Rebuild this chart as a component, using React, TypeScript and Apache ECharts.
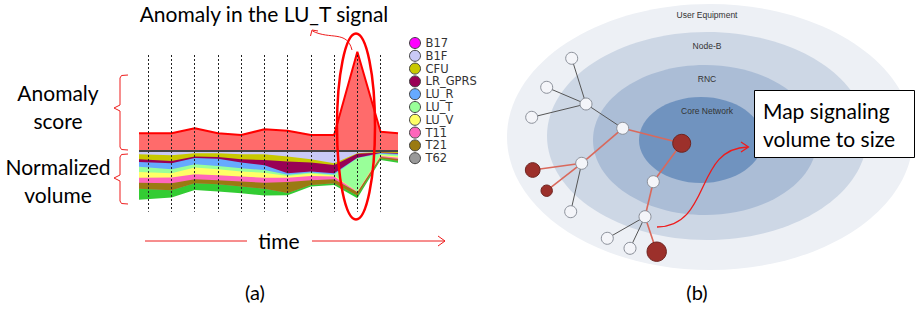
import React, { useEffect, useRef } from "react";
import * as echarts from "echarts";

// ---------- panel (a) data ----------
const timeIdx = [-0.4, 1, 2, 3, 4, 5, 6, 7, 8, 9, 10, 10.75];
const gridTimes = [0, 1, 2, 3, 4, 5, 6, 7, 8, 9, 10];
const anomalyScore = [17.7, 17.7, 22.7, 17.7, 16, 21.7, 20.3, 16, 16, 99.3, 19.3, 17.7];

const volumeNames = ["B17", "B1F", "CFU", "LR_GPRS", "LU_R", "LU_T", "LU_V", "T11", "T21", "T62", "Other"];
const volumeColors = ["#ff00ff", "#c9c9f6", "#c8c800", "#990055", "#66aaff", "#99ff99", "#ffff66", "#ff66bb", "#9a7a12", "#999999", "#33cc33"];
const volB17 = [0, 0, 0, 0, 0, 0, 0, 0, 0, 0, 0, 0];
const volB1F = [3.3, 4.3, 2.3, 2.3, 3.3, 3.3, 5.5, 8.3, 12.3, 2.3, 0.7, 1];
const volCFU = [5, 5.7, 3.3, 3.7, 5, 5.7, 5, 3.3, 1.7, 0.5, 0.7, 1];
const volLRGPRS = [2.7, 2.3, 1.3, 1.7, 3.3, 5.3, 11.7, 9, 8.3, 4, 0.7, 0.7];
const volLUR = [4.7, 6, 6.3, 7.3, 5.7, 4.7, 1.5, 1, 1.1, 0.3, 0.7, 1];
const volLUT = [5.3, 4, 3.3, 3.3, 3.3, 2.7, 1.3, 1, 1.1, 33.3, 1.3, 1.7];
const volLUV = [5.7, 4.3, 6.7, 6, 5, 5, 1.7, 2.3, 1.1, 0.3, 1, 1.3];
const volT11 = [5, 5.7, 5, 5, 5, 5, 4.3, 4.3, 2.7, 0.5, 1, 1.3];
const volT21 = [6, 7, 4, 4, 5, 6, 11, 4.7, 4, 3.3, 1.3, 1.7];
const volT62 = [0, 0, 0, 0, 0, 0, 0, 0, 0, 0, 0, 0];
const volOther = [11, 7.3, 6.7, 7.3, 6.7, 6.7, 2.3, 1.7, 1.7, 2.7, 1.7, 2];
const volumes = [volB17, volB1F, volCFU, volLRGPRS, volLUR, volLUT, volLUV, volT11, volT21, volT62, volOther];
const legendNames = ["B17", "B1F", "CFU", "LR_GPRS", "LU_R", "LU_T", "LU_V", "T11", "T21", "T62"];

// ---------- panel (b) data ----------
const nodeX = [571.7, 546.7, 586, 531.7, 622.7, 681.7, 581.7, 532.7, 546.7, 653.3, 570.7, 645, 607.3, 630, 656.7];
const nodeY = [58.3, 87.3, 104, 117.3, 128.3, 143.3, 163.3, 170, 190.7, 181.7, 211.7, 216.7, 238.3, 248.3, 251.7];
const nodeSize = [12, 12, 12, 12, 12, 18, 12, 14.7, 11.4, 12, 12, 12, 12, 12, 19.4];
const nodeHot = [0, 0, 0, 0, 0, 1, 0, 1, 1, 0, 0, 0, 0, 0, 1];
const linkSource = [0, 1, 3, 2, 6, 11, 11, 4, 4, 6, 6, 5, 9, 11];
const linkTarget = [2, 2, 2, 4, 10, 12, 13, 5, 6, 7, 8, 9, 11, 14];
const linkHot = [0, 0, 0, 0, 0, 0, 0, 1, 1, 1, 1, 1, 1, 1];
const layerNames = ["User Equipment", "Node-B", "RNC", "Core Network"];

const FONT = "Lato, 'Open Sans', sans-serif";

export default function App() {
  const ref = useRef<HTMLDivElement>(null);
  useEffect(() => {
    if (!ref.current) return;
    const chart = echarts.init(ref.current, undefined, { renderer: "svg" });

    // cumulative depth of each band below the baseline
    const cumulative: number[][] = [];
    volumes.forEach((v, k) => {
      cumulative.push(v.map((d, i) => d + (k > 0 ? cumulative[k - 1][i] : 0)));
    });
    // draw the deepest band first, shallower bands on top (each filled to 0)
    const volumeSeries = volumeNames
      .map((name, k) => ({
        type: "line",
        name,
        xAxisIndex: 0,
        yAxisIndex: 0,
        showSymbol: false,
        symbol: "none",
        color: volumeColors[k],
        lineStyle: { width: 0, opacity: 0 },
        areaStyle: { color: volumeColors[k], opacity: 1 },
        data: timeIdx.map((t, i) => [t, -cumulative[k][i]]),
        z: 2,
      }))
      .reverse();

    const txt = (text: string, x: number, y: number, size: number, extra: any = {}) => ({
      type: "text",
      x,
      y,
      z: 100,
      style: {
        text,
        fill: extra.fill || "#000",
        fontSize: size,
        fontFamily: extra.fontFamily || FONT,
        align: extra.align || "center",
        textAlign: extra.align || "center",
        verticalAlign: "middle",
        textVerticalAlign: "middle",
      },
    });
    const red = "#ee1c1c";

    const ellCx = [710, 707, 705, 701];
    const ellCy = [137, 136, 140, 140];
    const ellRx = [203, 160, 112, 62];
    const ellRy = [133, 104, 75, 43];
    const ellFill = ["#edf0f5", "#cdd7e5", "#abbdd6", "#7093bf"];
    const layerLabelY = [15, 46, 79, 111];

    const option: any = {
      animation: false,
      grid: [
        { left: 139, top: 49, width: 259, height: 163 },
        { left: 500, top: 0, width: 415, height: 310 },
      ],
      xAxis: [
        { type: "value", min: -0.4, max: 10.75, show: false, gridIndex: 0 },
        { type: "value", min: 500, max: 915, show: false, gridIndex: 1 },
      ],
      yAxis: [
        { type: "value", min: -61, max: 102, show: false, gridIndex: 0 },
        { type: "value", min: 0, max: 310, inverse: true, show: false, gridIndex: 1 },
      ],
      legend: {
        data: legendNames,
        orient: "vertical",
        left: 409,
        top: 37,
        itemWidth: 11,
        itemHeight: 11,
        itemGap: 0.8,
        icon: "circle",
        selectedMode: false,
        padding: 0,
        itemStyle: { borderColor: "#444", borderWidth: 1 },
        textStyle: { fontSize: 11.5, fontFamily: "'DejaVu Sans', sans-serif", color: "#333" },
      },
      series: [
        {
          type: "line",
          name: "Anomaly score",
          xAxisIndex: 0,
          yAxisIndex: 0,
          showSymbol: false,
          symbol: "none",
          color: "#ff0000",
          lineStyle: { color: "#ff0000", width: 2 },
          areaStyle: { color: "#ff6b6b", opacity: 1 },
          data: timeIdx.map((t, i) => [t, anomalyScore[i]]),
          z: 3,
        },
        ...volumeSeries,
        {
          type: "line",
          name: "grid",
          xAxisIndex: 0,
          yAxisIndex: 0,
          data: [],
          z: 5,
          markLine: {
            silent: true,
            symbol: ["none", "none"],
            label: { show: false },
            animation: false,
            data: [
              ...gridTimes.map((t) => [
                { coord: [t, 96], lineStyle: { color: "#222", width: 1, type: [2, 2] } },
                { coord: [t, -60.7] },
              ]),
              { yAxis: 0, lineStyle: { color: "#444", width: 2, type: "solid" } },
            ],
          },
        },
        {
          type: "graph",
          coordinateSystem: "cartesian2d",
          xAxisIndex: 1,
          yAxisIndex: 1,
          z: 4,
          symbol: "circle",
          label: { show: false },
          data: nodeX.map((x, i) => ({
            name: "n" + i,
            value: [x, nodeY[i]],
            symbolSize: nodeSize[i],
            itemStyle: nodeHot[i]
              ? { color: "#9c302b", borderColor: "#6e2420", borderWidth: 1 }
              : { color: "#f4f5f9", borderColor: "#8a8f99", borderWidth: 1 },
          })),
          links: linkSource.map((s, i) => ({
            source: "n" + s,
            target: "n" + linkTarget[i],
            lineStyle: linkHot[i]
              ? { color: "#d9695c", width: 1.6, opacity: 1 }
              : { color: "#555", width: 1, opacity: 1 },
          })),
        },
      ],
      graphic: [
        ...ellCx.map((cx, i) => ({
          type: "ellipse",
          z: 0,
          shape: { cx, cy: ellCy[i], rx: ellRx[i], ry: ellRy[i] },
          style: { fill: ellFill[i] },
        })),
        ...layerNames.map((n, i) =>
          txt(n, 707, layerLabelY[i], 8.5, { fontFamily: "'Liberation Sans', Arial, sans-serif", fill: "#333" })
        ),
        {
          type: "rect",
          z: 100,
          shape: { x: 754.5, y: 90.5, width: 160, height: 67 },
          style: { fill: "#fff", stroke: "#000", lineWidth: 1 },
        },
        txt("Map signaling", 763, 110, 21, { align: "left" }),
        txt("volume to size", 763, 138, 21, { align: "left" }),
        {
          type: "bezierCurve",
          z: 100,
          shape: { x1: 657, y1: 227, cpx1: 712, cpy1: 226, cpx2: 694, cpy2: 148, x2: 748, y2: 147 },
          style: { stroke: red, fill: "none", lineWidth: 1.3 },
        },
        {
          type: "polyline",
          z: 100,
          shape: { points: [[741, 142], [748.5, 147], [741, 152]] },
          style: { stroke: red, fill: "none", lineWidth: 1.3 },
        },
        txt("Anomaly in the LU_T signal", 264, 13, 21),
        {
          type: "bezierCurve",
          z: 100,
          shape: { x1: 352, y1: 50, cpx1: 347, cpy1: 30, cpx2: 330, cpy2: 40, x2: 312.5, y2: 31 },
          style: { stroke: red, fill: "none", lineWidth: 1 },
        },
        {
          type: "polyline",
          z: 100,
          shape: { points: [[310.5, 36], [312, 30], [318, 31]] },
          style: { stroke: red, fill: "none", lineWidth: 1 },
        },
        {
          type: "ellipse",
          z: 100,
          shape: { cx: 356, cy: 126.5, rx: 19, ry: 93 },
          style: { fill: "none", stroke: "#ff0000", lineWidth: 2.5 },
        },
        txt("Anomaly", 58, 92, 21),
        txt("score", 58, 120, 21),
        txt("Normalized", 58, 166, 21),
        txt("volume", 58, 194, 21),
        {
          type: "polyline",
          z: 100,
          shape: { points: [[128, 75], [121.5, 75.5], [120, 78], [120, 105], [114, 108], [120, 111], [120, 147], [121.5, 149.5], [128, 150]] },
          style: { stroke: red, fill: "none", lineWidth: 1 },
        },
        {
          type: "polyline",
          z: 100,
          shape: { points: [[128, 154], [121.5, 154.5], [120, 157], [120, 175], [114, 178], [120, 181], [120, 201], [121.5, 203.5], [128, 204]] },
          style: { stroke: red, fill: "none", lineWidth: 1 },
        },
        {
          type: "line",
          z: 100,
          shape: { x1: 145, y1: 241, x2: 247, y2: 241 },
          style: { stroke: red, lineWidth: 1 },
        },
        {
          type: "line",
          z: 100,
          shape: { x1: 312, y1: 241, x2: 445, y2: 241 },
          style: { stroke: red, lineWidth: 1 },
        },
        {
          type: "polyline",
          z: 100,
          shape: { points: [[438, 236], [445, 241], [438, 246]] },
          style: { stroke: red, fill: "none", lineWidth: 1 },
        },
        txt("time", 279, 240, 21),
        txt("(a)", 255, 292, 20),
        txt("(b)", 697, 292, 20),
      ],
    };
    chart.setOption(option);
    return () => chart.dispose();
  }, []);
  return (
    <div
      ref={ref}
      style={{ position: "fixed", left: 0, top: 0, width: 915, height: 310, background: "#fff" }}
    />
  );
}
